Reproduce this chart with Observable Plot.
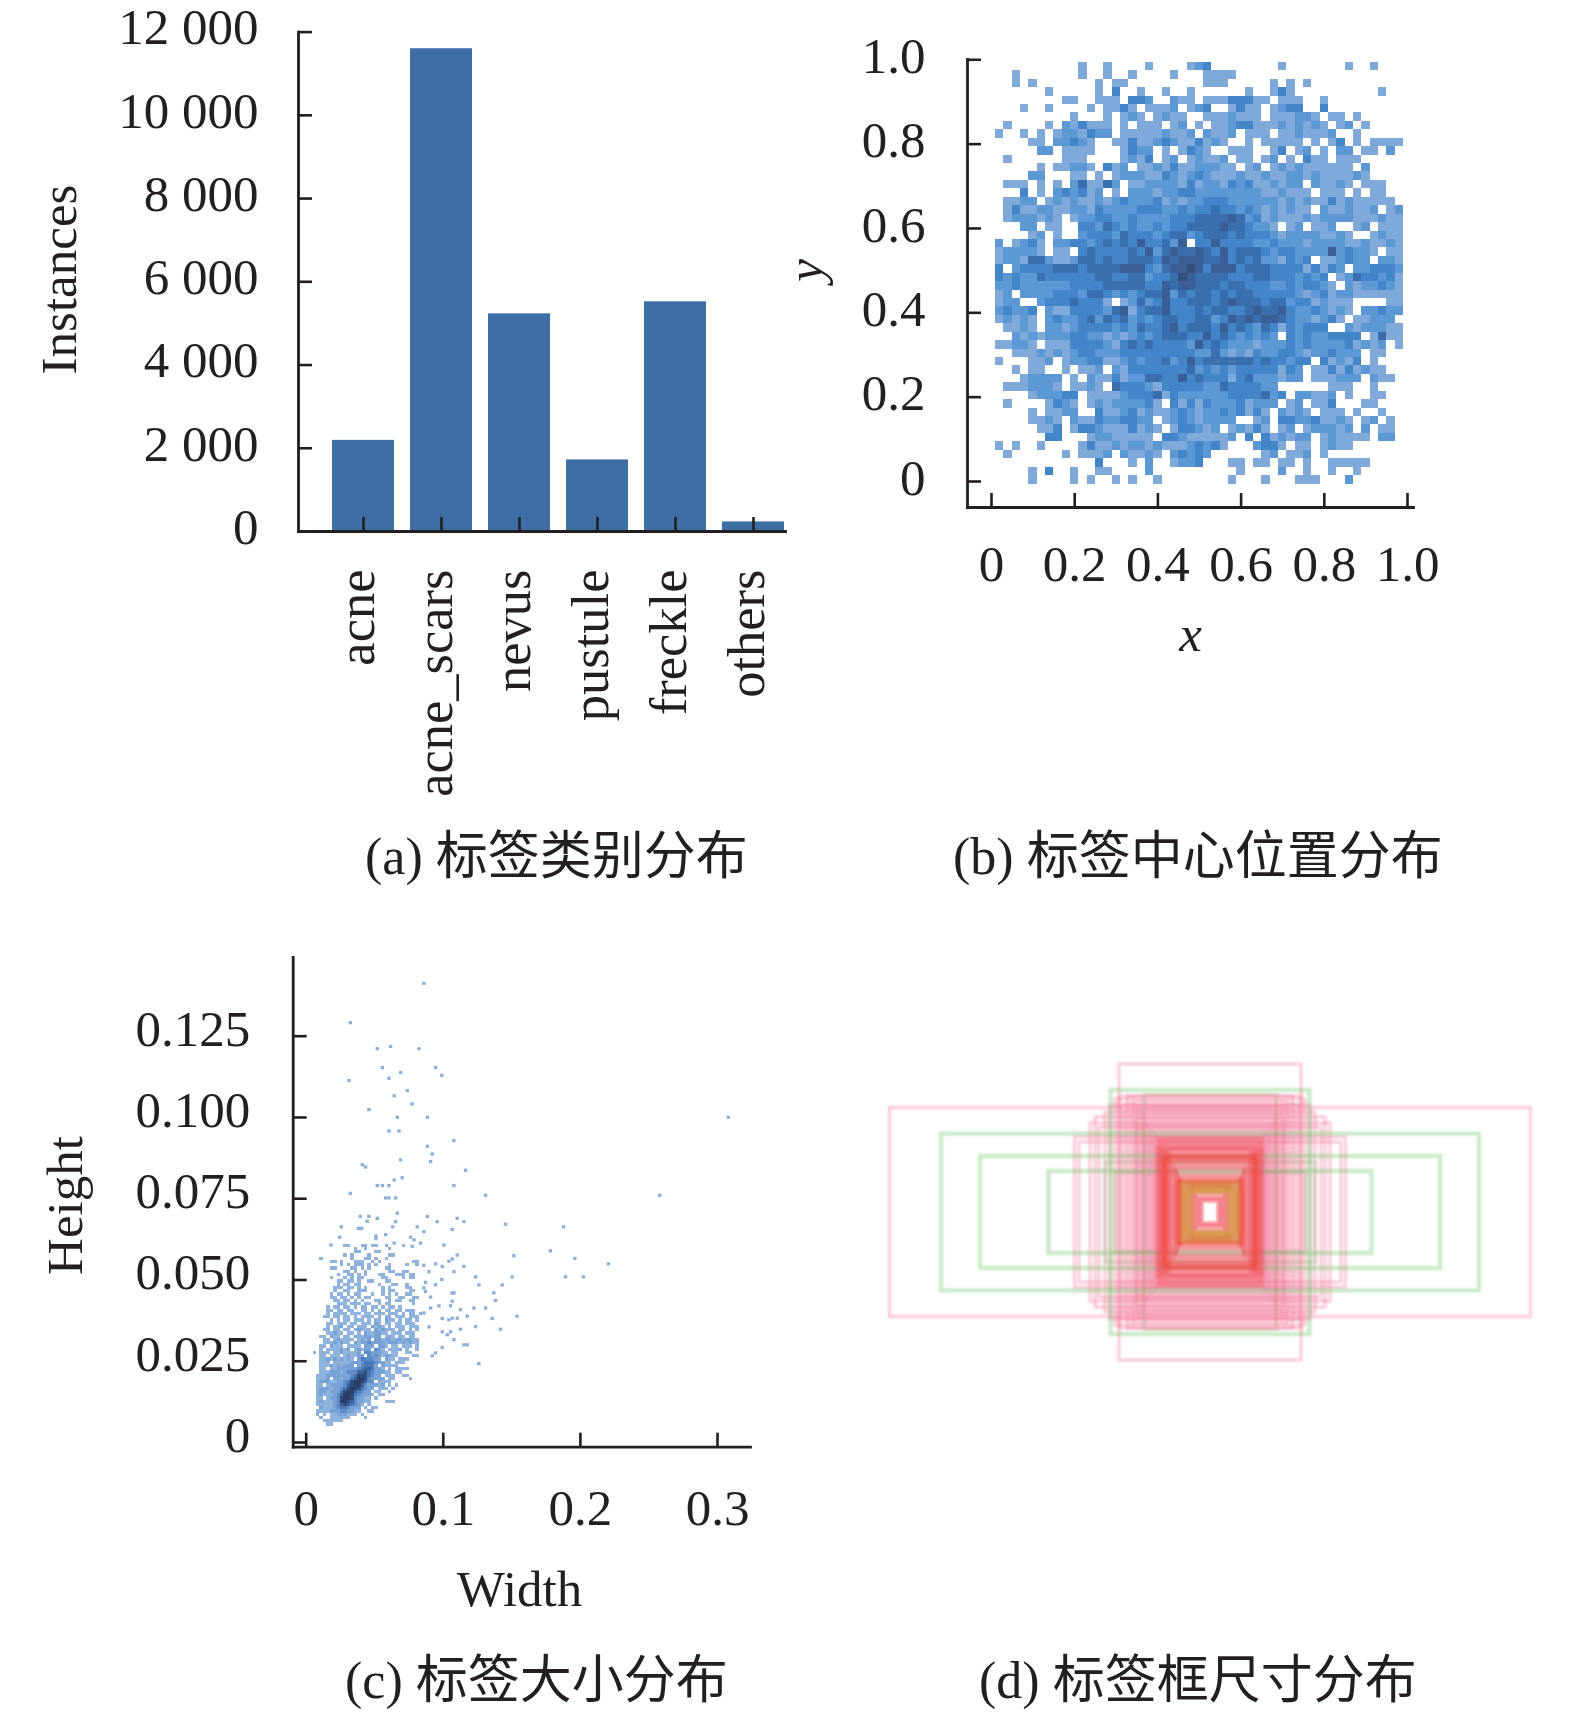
<!DOCTYPE html>
<html><head><meta charset="utf-8">
<script src="https://cdn.jsdelivr.net/npm/d3@7"></script>
<script src="https://cdn.jsdelivr.net/npm/@observablehq/plot@0.6"></script>
<style>
html,body{margin:0;padding:0;background:#fff;width:1575px;height:1719px;overflow:hidden}
.p{position:absolute}
.cap{position:absolute;font-family:"Liberation Serif","Noto Sans CJK SC",serif;font-size:52px;color:#231f20;white-space:pre;line-height:1}
</style></head><body>
<div id="a" class="p" style="left:0;top:0"></div>
<div id="b" class="p" style="left:790px;top:0"></div>
<div id="c" class="p" style="left:0;top:900px"></div>
<div id="d" class="p" style="left:850px;top:1040px"></div>
<div class="cap" style="left:365px;top:831px">(a) 标签类别分布</div>
<div class="cap" style="left:953px;top:831px">(b) 标签中心位置分布</div>
<div class="cap" style="left:345px;top:1655px">(c) 标签大小分布</div>
<div class="cap" style="left:979px;top:1655px">(d) 标签框尺寸分布</div>
<script>
// (a) instances per category
const categories = ["acne","acne_scars","nevus","pustule","freckle","others"];
const instances = [2190,11600,5230,1720,5520,230];
const countTicks = [0,2000,4000,6000,8000,10000,12000];

// (b) centre-position heat map: rows from y≈1 down, columns from x≈0; digit = density level
const centreRows = [
"0000000000100100001000012300000000100000001001",
"0010000000100100100001000111100",
"001010000000101100000000011100000101010",
"00000010000010300100100100000010013100000000001",
"0000000011001110332002110111333110111001",
"0001001000010113101112012300131101233003",
"0000000001000101210121100111211101112210110100000",
"0100001021311101011101201011233111212121012010000",
"1001010122132201111121120211201110112111200100000",
"0000110223210011311232113121001011111010130101111",
"0000022011110001322010132100111001301201022011020",
"0100000011100001213012012112011012010311011100000",
"0000010112210312011213112221101201212111111020000",
"0000220001101012221132123211121121122121111210000",
"0111010102411420112222131221323112122021121011100",
"0003010232312010222122332222222211211101110101100",
"0112201212112123222312122333222222121211312111110",
"0131122112213222233322323343323212121102112112012",
"0122212101223322322223334444542312111212222111211",
"0002201100332432322323344445443221012011200120111",
"0000120100233324333234423444343332122221121001211",
"2012310223323434353342503353333223222122221121121",
"1222210110343333435245445435344432332222523221011",
"1221442112443433444354555445343422132301123220221",
"3023333444344445553245565355534443333131320223332",
"3232243333334433442334654444333443332323012433231",
"2232222223333444443354554443443332232332102122321",
"1202222333244323234452434434344333332123122111111",
"1220023334333101242353344434544434423312111000011",
"2322302113333245134453334344334544532232121022322",
"1212102322342434232344334423545455432212310112220",
"0112102212333323243345344435343243132333002122211",
"0021212223322121232344433534323232032322333301411",
"1122101113333213434333325343222122232322223121201",
"0011121212332223333333332242121322332122322201100",
"1000112012233112323342353444444343323303121301000",
"0010110010112021333333342323233333132011313121100",
"0001222201021131224433534333134222122011122202110",
"0111222101121043332133333224333322000000111001000",
"0000122233011112333413222222333342302211201001100",
"0100001321012122223103131322231222012011300011000",
"0000101122003112312112321223231310212101110100100",
"0000112102113223322012321222200120332231121012010",
"0000011301332111312101332120121310120122212020110",
"0000003300012211111033211111203031212201211110220",
"1010010000131121221211123231000233101101211000000",
"0100000010111202112102323200000012011201000000000",
"0000000000003000102001223000110110110100111110000",
"0000103001001100002000000000010000200100100100",
"0000100001010010100100000000100010001110002"
];
const centreLevels = [1,2,3,4,5,6];
const centreColors = ["#7fa9d9","#5c98d3","#4285c8","#3a6fae","#3a5f96","#34507c"];

// (c) box sizes: dense block, rows from height .060 down to .005, columns of width from .005
const sizeRows = [
"00000000011000110110010000100000",
"00000000000010010000001000000000",
"00000000000011000011000000000000",
"00000000010100001000001100000000",
"00100000000100011010010000000000",
"00000110100011100101000000000110",
"00000000101011101010001000010010",
"00000110000110101000011000000000",
"00000000011010010000001100110000",
"00000001001101010001100011101100",
"00000100010101100000110000101100",
"00000001101101001100011000000000",
"00000001011011000001000110010000",
"00000011101101010000101000011000",
"00000010011001110000101100001100",
"00000101101011000100101010011000",
"00000110110101011000011001100110",
"00000011011010100011001011001100",
"00000001110111011001011000000100",
"00001011011010110110101101000000",
"00001101101100110101011011011100",
"00001011110111011011101110101101",
"00011011011010111101011011101110",
"00000101011011101011021101011010",
"00001101110110111021011011011100",
"00001011201101110212101011101110",
"00011011011012111021211101101010",
"00001121101101021122110111011100",
"00110211011021122122012101101100",
"00011012111101212022122122122110",
"00011121211021223222212221212110",
"00110211101111022202210110111010",
"00101111212012122032101112010010",
"10111011211112033222110110011000",
"00110111012112203232122110000110",
"00112121212102433322021101110000",
"00111011111222344432211011100000",
"00111212122202344420211110000000",
"00110112222223455422101011110000",
"00111222123335564322211011000000",
"01112222222346664322011100110000",
"01112022122457763222201100001000",
"01222112234677653302111000000000",
"01101222235677532221201010000000",
"01222122346776432201110100000000",
"01221222467754322011001000000000",
"01211123577643222101100000000000",
"01101223677632211010000000000000",
"01211123776532211000011100000000",
"01111123565432101000000000000000",
"00211123443222010110000000000000",
"01111222332211001100000000000000",
"01010112221110100000000000000000",
"00100111111000010000000000000000",
"00011111100000000000000000000000",
"00001100000000000000000000000000"
];
const sizeLevels = [1,2,3,4,5,6,7];
const sizeColors = ["#8fb3dd","#76a2d6","#5d8dc9","#4779b6","#3a639a","#304c7c","#2a3f66"];
// isolated boxes [width,height]
const sizeOutliers = [
[.0862,.1411],[.0325,.1290],[.0522,.1210],[.0619,.1217],[.0826,.1210],[.0559,.1152],[.0692,.1137],[.0947,.1152],
[.0993,.1128],[.0607,.1119],[.0316,.1112],[.0741,.1081],[.0646,.1065],[.0777,.1040],[.0461,.1023],[.0668,.0999],
[.0887,.0999],[.3082,.0999],[.0607,.0957],[.0680,.0957],[.1081,.0927],[.0887,.0910],[.0923,.0886],[.0692,.0868],
[.0911,.0863],[.0413,.0853],[.0437,.0846],[.1166,.0836],[.0704,.0813],[.0646,.0806],[.0522,.0789],[.0559,.0789],
[.0607,.0789],[.1081,.0789],[.0325,.0765],[.1312,.0759],[.2582,.0759],[.0583,.0751],[.0607,.0751],[.0656,.0751],
[.0668,.0704],[.0398,.0694],[.0461,.0694],[.0449,.0679],[.0522,.0688],[.0887,.0694],[.0959,.0678],[.1105,.0688],
[.1154,.0678],[.1457,.0670],[.1880,.0662],[.0656,.0678],[.0634,.0662],[.0260,.0662],[.0814,.0662],[.0862,.0647],
[.1069,.0654],[.0384,.0657],[.0408,.0657],[.0248,.0630],[.0512,.0634],[.0512,.0626],[.0583,.0638],[.0765,.0630],
[.0790,.0622],[.0838,.0612],[.0646,.0612],[.0777,.0602],[.1008,.0606],[.0185,.0606],[.1785,.0588],[.1518,.0573],
[.1963,.0565],[.2208,.0548],[.1895,.0508],[.2026,.0508],[.1239,.0508],[.1506,.0508],[.1154,.0540],[.1081,.0524],
[.0862,.0544],[.0947,.0548],[.0996,.0540],[.0899,.0524],[.1044,.0556],[.1069,.0563],[.1105,.0575],[.1263,.0483],
[.0993,.0500],[.0874,.0491],[.0947,.0484],[.0862,.0474],[.0874,.0463],[.1372,.0459],[.1433,.0483],[.1069,.0458],
[.1081,.0459],[.1385,.0435],[.1069,.0433],[.1057,.0419],[.0911,.0446],[.1227,.0412],[.1312,.0412],[.1129,.0407],
[.0972,.0419],[.0911,.0412],[.0862,.0397],[.1360,.0380],[.1542,.0387],[.1178,.0387],[.0996,.0380],[.1044,.0376],
[.1105,.0381],[.1069,.0381],[.0899,.0354],[.1421,.0347],[.1239,.0355],[.1129,.0347],[.0996,.0339],[.1057,.0339],
[.1032,.0330],[.1081,.0315],[.1154,.0299],[.1178,.0299],[.0996,.0291],[.0947,.0274],[.0923,.0265],[.1263,.0241]
];

// (d) box outlines centred on a common point [width,height]
const pinkOuter = [[641,209],[182,296],[271,150],[262,140],[240,178],[230,190],[222,170],[210,200],[200,214],[190,226],[182,232],[176,215],[170,205],[165,232],[160,196],[155,222],[150,186],[148,212],[145,176],[142,204],[138,168],[135,196],[132,160],[130,188],[126,152],[124,180],[120,146],[118,172],[115,140],[112,164],[110,134],[108,156]];
const pinkInner = [[105,128],[103,148],[100,122],[98,142],[95,116],[93,136],[90,112],[88,130],[85,110],[82,125],[80,105],[76,100],[72,95],[68,90],[66,85],[62,75],[60,70],[58,62],[55,58],[50,50],[46,56],[40,48],[36,52],[32,42],[28,38],[24,30],[20,26],[16,22]];
const greenWide = [[538,157],[460,112],[323,82],[199,244]];
const greenCore = [[132,235],[210,100],[190,80]];
const greenCentre = [[56,57],[50,44],[44,50],[38,40]];
const redBoxes = [[89,112],[92,104],[66,60],[60,64]];

const ink = "#231f20";
const base = {fontFamily:'"Liberation Serif",serif',fontSize:"51px",color:ink,background:"transparent",overflow:"visible"};
const axisOpts = {stroke:ink,strokeWidth:2.6,fill:ink,label:null};
const edge = a => Plot.frame({anchor:a,stroke:ink,strokeWidth:2.8});
const word = (t,o) => Plot.text([t],{text:d=>d,frameAnchor:"top-left",textAnchor:"middle",lineAnchor:"middle",fill:ink,...o});
// inward tick marks and their labels as two marks, so that labels can be nudged alone
const yAxis = (ticks,pad,dy,fmt) => [
  Plot.axisY({...axisOpts,ticks,tickSize:14,dx:14,fill:"none",tickFormat:fmt}),
  Plot.axisY({...axisOpts,ticks,tickSize:0,tickPadding:pad,dy,tickFormat:fmt})
];
const xAxis = (ticks,pad,fmt,extra={}) => [
  Plot.axisX({...axisOpts,ticks,tickSize:14,dy:-14,fill:"none",tickFormat:fmt}),
  Plot.axisX({...axisOpts,ticks,tickSize:0,tickPadding:pad,tickFormat:fmt,...extra})
];
const oneDec = d=>d===0?"0":d.toFixed(1);

document.getElementById("a").append(Plot.plot({
  width:790,height:810,marginLeft:298,marginRight:5,marginTop:31.6,marginBottom:279,style:base,
  x:{type:"band",domain:categories,range:[315,800.7],padding:.2},
  y:{domain:[0,12000]},
  marks:[
    Plot.barY(categories.map((c,i)=>({c,v:instances[i]})),{x:"c",y:"v",fill:"#3d6fa6"}),
    edge("left"),edge("bottom"),
    yAxis(countTicks,40,-4,d=>d3.format(",")(d).replace(","," ")),
    xAxis(categories,38,d=>d,{tickRotate:-90,lineAnchor:"middle",fontSize:52.5,dx:-6}),
    word("Instances",{dx:59-298,dy:279-31.6,rotate:-90})
  ]
}));

const centreCells = centreRows.flatMap((r,j)=>[...r].map((ch,i)=>({i,j,l:+ch}))).filter(d=>d.l>0);
document.getElementById("b").append(Plot.plot({
  width:785,height:810,marginLeft:177,marginRight:162,marginTop:59,marginBottom:303,style:base,
  x:{domain:[0,1],range:[201,617]},
  y:{domain:[0,1],range:[481,59.3]},
  color:{type:"ordinal",domain:centreLevels,range:centreColors},
  marks:[
    Plot.rect(centreCells,{x1:d=>.01+.02*d.i,x2:d=>.03+.02*d.i,y1:d=>.994-.02*d.j,y2:d=>.974-.02*d.j,fill:"l",shapeRendering:"crispEdges"}),
    edge("left"),edge("bottom"),
    yAxis([0,.2,.4,.6,.8,1],42,-3,oneDec),
    xAxis([0,.2,.4,.6,.8,1],37,oneDec),
    word("y",{dx:805-967,dy:270-59,rotate:-90,fontStyle:"italic"}),
    word("x",{dx:1190-967,dy:634-59,fontStyle:"italic"})
  ]
}));

const sizeCells = sizeRows.flatMap((r,j)=>[...r].map((ch,i)=>({x:.005+.0025*i,y:.060-.001*j,l:+ch}))).filter(d=>d.l>0);
document.getElementById("c").append(Plot.plot({
  width:790,height:730,marginLeft:292.7,marginRight:40,marginTop:57,marginBottom:183.3,style:base,
  x:{domain:[0,.3],range:[305.7,717]},
  y:{domain:[0,.125],range:[542,135.7]},
  color:{type:"ordinal",domain:sizeLevels,range:sizeColors},
  marks:[
    Plot.rect(sizeCells,{x1:d=>d.x,x2:d=>d.x+.0025,y1:d=>d.y,y2:d=>d.y+.001,fill:"l",shapeRendering:"crispEdges"}),
    Plot.rect(sizeOutliers,{x1:d=>d[0]-.00125,x2:d=>d[0]+.00125,y1:d=>d[1]-.0005,y2:d=>d[1]+.0005,fill:"#8fb0d6"}),
    edge("left"),edge("bottom"),
    yAxis([0,.025,.05,.075,.1,.125],43,-7,d=>d===0?"0":d.toFixed(3)),
    xAxis([0,.1,.2,.3],42,oneDec),
    word("Height",{dx:65-292.7,dy:1205-957,rotate:-90}),
    word("Width",{dx:519-292.7,dy:1589-957})
  ]
}));

const boxMark = (rows,colour,opacity,sw) => Plot.rect(rows,{x1:d=>-d[0]/2,x2:d=>d[0]/2,y1:d=>-d[1]/2,y2:d=>d[1]/2,fill:"none",stroke:colour,strokeOpacity:opacity,strokeWidth:sw});
document.getElementById("d").append(Plot.plot({
  width:720,height:344,margin:0,axis:null,style:{...base,filter:"blur(0.9px)"},
  x:{domain:[-360,360]},
  y:{domain:[-172,172]},
  marks:[
    boxMark(greenCore,"#66b858",.3,3),
    boxMark(pinkOuter,"#ee5a80",.3,3.2),
    boxMark(greenWide,"#66c060",.34,4.4),
    boxMark(pinkInner,"#ee4858",.44,4),
    boxMark(redBoxes,"#f0442c",.36,4.5),
    boxMark(greenCentre,"#c8a030",.42,5)
  ]
}));
</script>
</body></html>
